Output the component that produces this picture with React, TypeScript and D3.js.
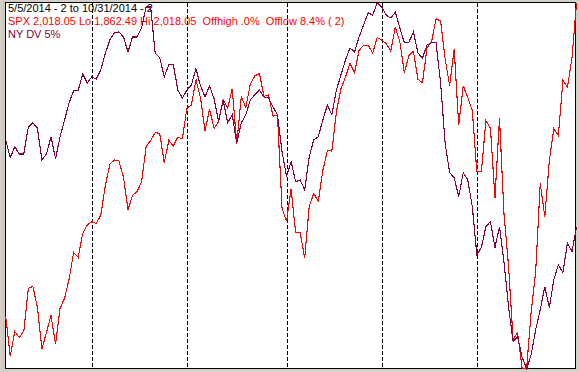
import { useEffect, useRef } from 'react';
import * as d3 from 'd3';

// SPX daily closes, 5/5/2014 .. 10/31/2014 (127 sessions)
const SPX = [
  1884.66, 1867.72, 1878.21, 1875.63, 1878.48, 1896.65, 1897.45, 1888.53, 1870.85, 1877.86,
  1885.08, 1872.83, 1888.03, 1892.49, 1900.53, 1911.91, 1909.78, 1920.03, 1923.57,
  1924.97, 1924.24, 1927.88, 1940.46, 1949.44, 1951.27, 1950.79, 1943.89, 1930.11, 1936.16,
  1937.78, 1941.99, 1956.98, 1959.48, 1962.87, 1962.61, 1949.98, 1959.53, 1957.22, 1960.96, 1960.23,
  1973.32, 1974.62, 1985.44, 1977.65, 1963.71, 1972.83, 1964.68, 1967.57, 1977.1, 1973.28,
  1981.57, 1958.12, 1978.22, 1973.63, 1983.53, 1987.01, 1987.98, 1978.34, 1978.91, 1969.95, 1970.07, 1930.67,
  1925.15, 1938.99, 1920.21, 1920.24, 1909.57, 1931.59, 1936.92, 1933.75, 1946.72, 1955.18,
  1955.06, 1971.74, 1981.6, 1986.51, 1992.37, 1988.4, 1997.92, 2000.02, 2000.12, 1996.74, 2003.37,
  2002.28, 2000.72, 1997.65, 2007.71, 2001.54, 1988.44, 1995.69, 1997.45, 1985.54, 1984.13,
  1998.98, 2001.57, 2011.36, 2010.4, 1994.29, 1982.77, 1998.3, 1965.99, 1982.85, 1977.8, 1972.29,
  1946.16, 1946.17, 1967.9, 1964.82, 1935.1, 1968.89, 1928.21, 1906.13, 1874.74, 1877.7,
  1862.49, 1862.76, 1886.76, 1904.01, 1941.28, 1927.11, 1950.82, 1964.58, 1961.63, 1985.05,
  1982.3, 1994.65, 2018.05,
];

// NY DV 5% (0..100 of its own range)
const NYDV = [
  62.6, 57.7, 60.7, 58.7, 58.7, 66.1, 67.2, 65.8, 57.1, 58.7,
  63.4, 57.4, 63.4, 68.0, 72.7, 76.0, 76.0, 80.6, 78.1, 79.8,
  79.2, 81.7, 86.3, 89.9, 91.8, 92.1, 90.7, 86.6, 90.7, 90.7,
  93.2, 98.9, 98.9, 86.3, 85.0, 79.8, 83.1, 83.1, 76.2, 74.0,
  76.2, 77.6, 82.0, 77.3, 74.3, 77.3, 73.8, 67.5, 73.5, 67.2,
  69.4, 61.7, 67.2, 69.4, 73.5, 74.9, 76.2, 74.3, 74.0, 71.6,
  69.4, 59.3, 52.5, 56.6, 51.1, 51.6, 48.9, 57.9, 62.6, 63.4,
  68.0, 72.1, 69.4, 76.2, 80.3, 84.4, 87.7, 86.6, 90.7, 94.0,
  97.3, 96.7, 100, 98.9, 96.7, 95.9, 97.5, 93.2, 89.1, 89.3,
  92.1, 86.3, 85.0, 88.5, 89.1, 89.1, 78.1, 61.7, 53.6, 52.2,
  47.0, 53.6, 51.6, 44.3, 31.1, 33.1, 38.8, 40.2, 33.1, 38.8,
  29.0, 16.9, 7.4, 8.7, 3.0, 0, 3.8, 10.7, 16.1, 22.4,
  16.7, 24.3, 28.4, 26.2, 34.4, 32.0, 38.8,
];

// index of the first session of Jun, Jul, Aug, Sep, Oct
const MONTH_STARTS = [19, 40, 62, 83, 104];

const HEADER = [
  { text: '5/5/2014 - 2 to 10/31/2014 - 2', color: '#000000' },
  { text: 'SPX 2,018.05 Lo 1,862.49 Hi 2,018.05  Offhigh .0%  Offlow 8.4% ( 2)', color: '#ff0000' },
  { text: 'NY DV 5%', color: '#800040' },
];

const W = 579;
const H = 372;
const PLOT = { left: 5.5, top: 2.5, right: 575.5, bottom: 368.5 };

export default function App() {
  const svgRef = useRef<SVGSVGElement>(null);

  useEffect(() => {
    const svg = d3.select(svgRef.current!);
    svg.selectAll('*').remove();

    svg.append('rect').attr('width', W).attr('height', H).attr('fill', '#d4d0c8');
    svg.append('line')
      .attr('x1', 3.5).attr('x2', 3.5).attr('y1', 0).attr('y2', H)
      .attr('stroke', '#a6caf0');
    svg.append('rect')
      .attr('x', PLOT.left).attr('y', PLOT.top)
      .attr('width', PLOT.right - PLOT.left).attr('height', PLOT.bottom - PLOT.top)
      .attr('fill', '#ffffff').attr('stroke', '#000000')
      .attr('shape-rendering', 'crispEdges');

    const x = d3.scaleLinear().domain([0, SPX.length - 1]).range([5.7, 576.5]);
    const ySpx = d3.scaleLinear().domain(d3.extent(SPX) as [number, number]).range([368.5, 3]);
    const yDv = d3.scaleLinear().domain(d3.extent(NYDV) as [number, number]).range([368.5, 3]);

    // header text sits under the lines
    svg.append('g')
      .selectAll('text')
      .data(HEADER)
      .join('text')
      .attr('x', 8)
      .attr('y', (_, i) => 12 + i * 13)
      .attr('fill', (d) => d.color)
      .attr('font-family', '"Liberation Sans", Arial, sans-serif')
      .attr('font-size', 11)
      .style('white-space', 'pre')
      .text((d) => d.text);

    svg.append('g')
      .selectAll('line')
      .data(MONTH_STARTS)
      .join('line')
      .attr('x1', (d) => Math.round(x(d)) + 0.5)
      .attr('x2', (d) => Math.round(x(d)) + 0.5)
      .attr('y1', PLOT.top)
      .attr('y2', PLOT.bottom)
      .attr('stroke', '#000000')
      .attr('stroke-dasharray', '4,2')
      .attr('shape-rendering', 'crispEdges');

    const spxLine = d3.line<number>().x((_, i) => x(i)).y((d) => ySpx(d));
    const dvLine = d3.line<number>().x((_, i) => x(i)).y((d) => yDv(d));

    svg.append('path')
      .attr('d', spxLine(SPX))
      .attr('fill', 'none')
      .attr('stroke', '#ff0000')
      .attr('stroke-width', 1.1)
      .attr('shape-rendering', 'crispEdges');

    svg.append('path')
      .attr('d', dvLine(NYDV))
      .attr('fill', 'none')
      .attr('stroke', '#800040')
      .attr('stroke-width', 1.1)
      .attr('shape-rendering', 'crispEdges');
  }, []);

  return (
    <div style={{ position: 'fixed', left: 0, top: 0 }}>
      <svg ref={svgRef} width={W} height={H} style={{ display: 'block' }} />
    </div>
  );
}
